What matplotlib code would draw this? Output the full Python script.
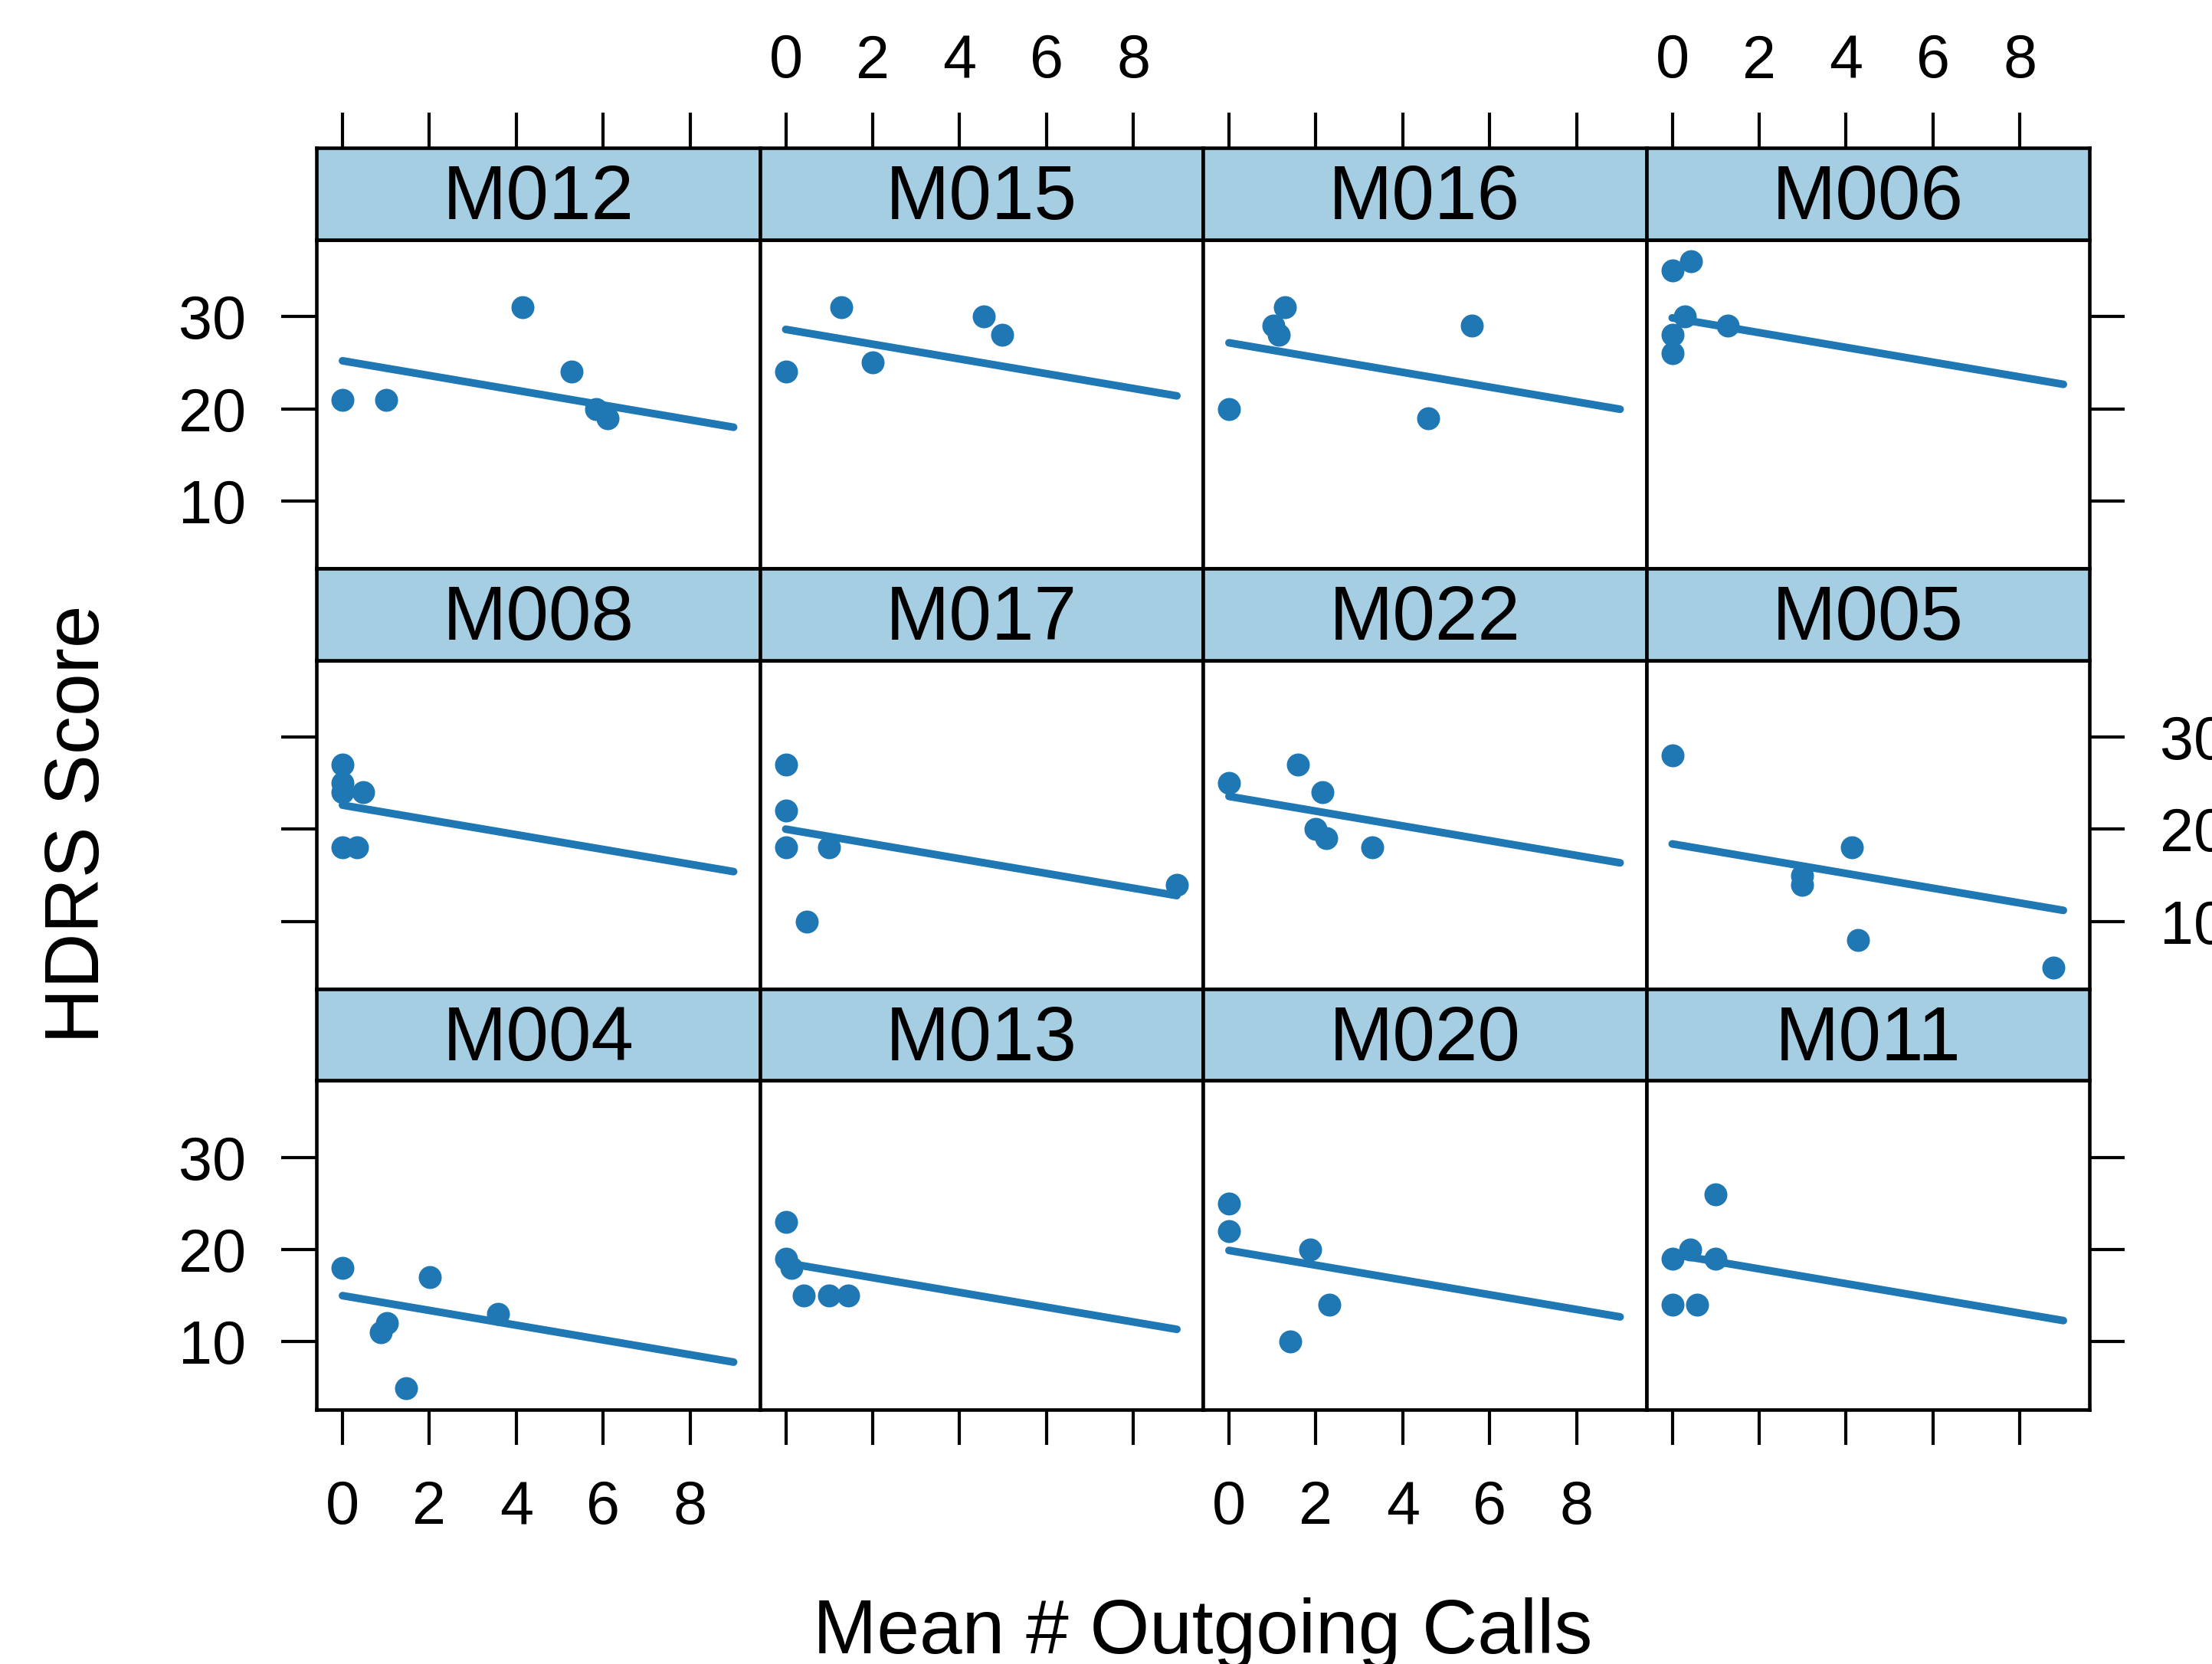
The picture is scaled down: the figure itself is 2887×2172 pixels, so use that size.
import matplotlib.pyplot as plt

plt.rcParams.update({
    "font.family": ["Liberation Sans", "DejaVu Sans"],
    "axes.linewidth": 1.1,
    "xtick.direction": "out",
    "ytick.direction": "out",
    "xtick.major.size": 11,
    "ytick.major.size": 11,
    "xtick.major.width": 1.0,
    "ytick.major.width": 1.0,
    "xtick.major.pad": 11,
    "ytick.major.pad": 11,
    "xtick.labelsize": 19,
    "ytick.labelsize": 19,
})

COL_POINT = "#1f78b4"
COL_STRIP = "#a6cee3"

# panels in reading order (3 rows x 4 columns)
SUBJECTS = ["M012", "M015", "M016", "M006",
            "M008", "M017", "M022", "M005",
            "M004", "M013", "M020", "M011"]

CALLS = [
    [0, 1.0, 4.15, 5.27, 5.84, 6.1],
    [0, 1.28, 2.0, 4.56, 4.98],
    [0, 1.29, 1.02, 1.15, 5.58, 4.59],
    [0, 0.43, 0.29, 1.27, 0, 0],
    [0, 0, 0, 0.47, 0, 0.34],
    [0, 0, 0, 1.0, 0.49, 9.0],
    [0, 1.58, 2.15, 2.0, 2.23, 3.29],
    [0, 4.14, 2.99, 2.99, 4.28, 8.78],
    [0, 2.01, 3.57, 1.03, 0.88, 1.46],
    [0, 0, 0.14, 0.42, 0.99, 1.43],
    [0, 0, 1.87, 2.31, 1.41],
    [0, 0.41, 1.0, 1.0, 0, 0.58],
]

HDRS = [
    [21, 21, 31, 24, 20, 19],
    [24, 31, 25, 30, 28],
    [20, 31, 29, 28, 29, 19],
    [35, 36, 30, 29, 28, 26],
    [27, 25, 24, 24, 18, 18],
    [27, 22, 18, 18, 10, 14],
    [25, 27, 24, 20, 19, 18],
    [28, 18, 15, 14, 8, 5],
    [18, 17, 13, 12, 11, 5],
    [23, 19, 18, 15, 15, 15],
    [25, 22, 20, 14, 10],
    [19, 20, 26, 19, 14, 14],
]

# random-intercept fit, common slope
INTERCEPTS = [25.2, 28.6, 27.15, 29.85,
              22.6, 20.0, 23.55, 18.4,
              15.0, 18.55, 19.9, 19.5]
SLOPE = -0.8

X_TICKS = [0, 2, 4, 6, 8]
Y_TICKS = [10, 20, 30]
XLIM = (-0.6, 9.6)
YLIM = (2.68, 38.32)

W, H = 2887, 2172
LEFT, COL_W = 413, 578.5
TOP, ROW_H, STRIP_H = 193.5, 548.7, 119.4
N_ROWS, N_COLS = 3, 4


def main():
    fig = plt.figure(figsize=(W / 300, H / 300), dpi=300)

    x_lo = min(min(v) for v in CALLS)
    x_hi = max(max(v) for v in CALLS)

    for i, name in enumerate(SUBJECTS):
        r, c = divmod(i, N_COLS)
        x0 = (LEFT + c * COL_W) / W
        strip_top = TOP + r * ROW_H
        panel_bottom = strip_top + ROW_H
        ax = fig.add_axes([x0, 1 - panel_bottom / H, COL_W / W,
                           (ROW_H - STRIP_H) / H])
        st = fig.add_axes([x0, 1 - (strip_top + STRIP_H) / H, COL_W / W,
                           STRIP_H / H])

        ax.plot(CALLS[i], HDRS[i], "o", ms=7.2, color=COL_POINT, mec="none")
        b = INTERCEPTS[i]
        ax.plot([x_lo, x_hi], [b + SLOPE * x_lo, b + SLOPE * x_hi],
                lw=2.4, color=COL_POINT, solid_capstyle="round")

        ax.set_xlim(*XLIM)
        ax.set_ylim(*YLIM)
        ax.set_xticks(X_TICKS)
        ax.set_yticks(Y_TICKS)
        ax.tick_params(
            top=False, labeltop=False,
            bottom=(r == N_ROWS - 1),
            labelbottom=(r == N_ROWS - 1 and c in (0, 2)),
            left=(c == 0), labelleft=(c == 0 and r in (0, 2)),
            right=(c == N_COLS - 1),
            labelright=(c == N_COLS - 1 and r == 1),
        )

        st.set_facecolor(COL_STRIP)
        st.set_xlim(*XLIM)
        st.set_xticks(X_TICKS)
        st.set_yticks([])
        st.tick_params(
            bottom=False, labelbottom=False,
            top=(r == 0), labeltop=(r == 0 and c in (1, 3)),
            pad=7,
        )
        st.text(0.5, 0.44, name, transform=st.transAxes, ha="center",
                va="center", fontsize=24)

    fig.text((LEFT + 2 * COL_W) / W, 0.0065, "Mean # Outgoing Calls",
             ha="center", va="baseline", fontsize=24)
    fig.text(103 / W, 1 - 1076 / H, "HDRS Score", rotation=90,
             ha="center", va="center", fontsize=24)

    fig.savefig("out.png", dpi=300)


if __name__ == "__main__":
    main()
